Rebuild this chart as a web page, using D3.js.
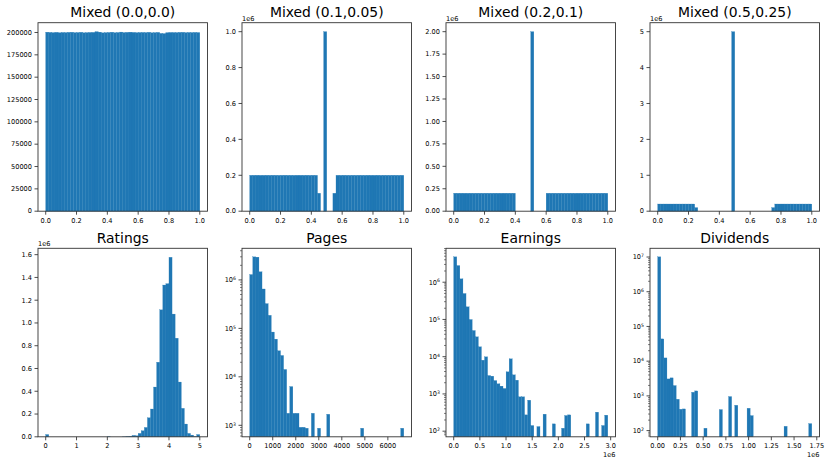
<!DOCTYPE html>
<html>
<head>
<meta charset="utf-8">
<script src="https://cdn.jsdelivr.net/npm/d3@7"></script>
<style>
  body { margin: 0; background: #fff; }
  svg { display: block; }
  text { font-family: "DejaVu Sans", sans-serif; fill: #000; }
</style>
</head>
<body>
<svg id="chart" width="830" height="466"></svg>
<script>
// histogram counts, 50 bins per panel
const titles = ['Mixed (0.0,0.0)', 'Mixed (0.1,0.05)', 'Mixed (0.2,0.1)', 'Mixed (0.5,0.25)',
                'Ratings', 'Pages', 'Earnings', 'Dividends'];

const binRanges = [[0, 1], [0, 1], [0, 1], [0, 1], [0, 5], [0, 6692], [0, 2.945e6], [0, 1.695e6]];

const mixed00Counts = [200350, 200120, 199880, 200210, 199760, 200040, 199930, 200180, 200300, 199850,
  199990, 200260, 199700, 199910, 200080, 200150, 200920, 200410, 199620, 199880,
  200060, 200330, 199790, 200010, 200470, 199950, 200190, 200380, 200120, 199870,
  200020, 200090, 199960, 200240, 199710, 199890, 200140, 199000, 198800, 199850,
  200070, 200010, 199940, 200160, 200230, 199880, 200050, 199970, 200110, 199990];

const mixed01Counts = [199900, 200150, 200300, 199870, 200020, 200180, 199950, 200240, 200060, 199810,
  200110, 200270, 199930, 200040, 199880, 200190, 200090, 199960, 200220, 199840,
  200130, 199990, 100000, 0, 1000000, 0, 0, 100000, 200080, 199920,
  200260, 200010, 199870, 200150, 199940, 200200, 200030, 199890, 200170, 200050,
  199960, 200240, 199820, 200100, 200010, 199930, 200180, 200060, 199900, 200120];

const mixed02Counts = [200100, 199920, 200230, 200040, 199880, 200170, 199990, 200260, 200080, 199850,
  200140, 200020, 199910, 200200, 200060, 199940, 200180, 200030, 199870, 200110,
  0, 0, 0, 0, 0, 2000000, 0, 0, 0, 0,
  200050, 199960, 200210, 199890, 200120, 200010, 199930, 200240, 200070, 199860,
  200150, 199980, 200190, 200040, 199900, 200130, 200020, 199950, 200220, 200080];

const mixed05Counts = [200120, 199940, 200210, 200030, 199880, 200160, 200050, 199920, 200230, 200010,
  199960, 200140, 100000, 0, 0, 0, 0, 0, 0, 0,
  0, 0, 0, 0, 5000000, 0, 0, 0, 0, 0,
  0, 0, 0, 0, 0, 0, 0, 100000, 200090, 199930,
  200180, 200020, 199890, 200240, 200060, 199970, 200150, 200010, 199900, 200200];

const ratingsCounts = [20000, 0, 0, 0, 0, 0, 0, 0, 0, 0,
  0, 0, 0, 0, 0, 0, 0, 0, 0, 0,
  3000, 0, 0, 0, 0, 1000, 4000, 5000, 12000, 9000,
  30000, 53000, 82000, 167000, 244000, 437000, 655000, 1115000, 1333000, 1345000,
  1577000, 1078000, 866000, 481000, 250000, 112000, 30000, 15000, 3000, 20000];

const pagesCounts = [1290000, 2990000, 2950000, 1470000, 650000, 324000, 186000, 84000, 60000, 34500,
  27600, 14200, 1770, 6300, 1770, 1770, 910, 910, 870, 0,
  1770, 0, 870, 0, 0, 1690, 0, 0, 0, 0,
  0, 0, 0, 0, 0, 0, 870, 0, 0, 0,
  0, 0, 0, 0, 0, 0, 0, 0, 0, 870];

const earningsCounts = [4790000, 2800000, 1230000, 497000, 218000, 99500, 50400, 34100, 18400, 8050,
  9900, 3120, 3000, 2290, 1870, 1620, 1400, 3920, 8750, 3250,
  2340, 836, 836, 274, 679, 142, 0, 133, 0, 286,
  0, 0, 157, 0, 0, 120, 263, 274, 0, 0,
  0, 0, 0, 157, 0, 0, 324, 0, 142, 269];

const dividendsCounts = [10100000, 43800, 12400, 3080, 3300, 1980, 800, 412, 421, 0,
  0, 1270, 1390, 0, 0, 117, 0, 0, 0, 0,
  403, 0, 0, 955, 0, 537, 0, 0, 0, 440,
  270, 0, 0, 0, 0, 0, 0, 0, 0, 0,
  0, 133, 0, 0, 0, 0, 0, 0, 0, 159];

// tick labels
const unitTicks = [0, 0.2, 0.4, 0.6, 0.8, 1.0];
const mixed00YTicks = [0, 25000, 50000, 75000, 100000, 125000, 150000, 175000, 200000];
const mixed01YTicks = [0, 0.2e6, 0.4e6, 0.6e6, 0.8e6, 1.0e6];
const mixed02YTicks = [0, 0.25e6, 0.5e6, 0.75e6, 1.0e6, 1.25e6, 1.5e6, 1.75e6, 2.0e6];
const mixed05YTicks = [0, 1e6, 2e6, 3e6, 4e6, 5e6];
const ratingsXTicks = [0, 1, 2, 3, 4, 5];
const ratingsYTicks = [0, 0.2e6, 0.4e6, 0.6e6, 0.8e6, 1.0e6, 1.2e6, 1.4e6, 1.6e6];
const pagesXTicks = [0, 1000, 2000, 3000, 4000, 5000, 6000];
const earningsXTicks = [0, 0.5e6, 1.0e6, 1.5e6, 2.0e6, 2.5e6, 3.0e6];
const dividendsXTicks = [0, 0.25e6, 0.5e6, 0.75e6, 1.0e6, 1.25e6, 1.5e6, 1.75e6];

const fix = n => d => (d / 1e6).toFixed(n);
const panels = [
  { counts: mixed00Counts, xTicks: unitTicks, xFmt: d => d.toFixed(1), yTicks: mixed00YTicks, yFmt: d => String(d) },
  { counts: mixed01Counts, xTicks: unitTicks, xFmt: d => d.toFixed(1), yTicks: mixed01YTicks, yFmt: fix(1), yOff: true },
  { counts: mixed02Counts, xTicks: unitTicks, xFmt: d => d.toFixed(1), yTicks: mixed02YTicks, yFmt: fix(2), yOff: true },
  { counts: mixed05Counts, xTicks: unitTicks, xFmt: d => d.toFixed(1), yTicks: mixed05YTicks, yFmt: fix(0), yOff: true },
  { counts: ratingsCounts, xTicks: ratingsXTicks, xFmt: d => String(d), yTicks: ratingsYTicks, yFmt: fix(1), yOff: true },
  { counts: pagesCounts, xTicks: pagesXTicks, xFmt: d => String(d), log: true },
  { counts: earningsCounts, xTicks: earningsXTicks, xFmt: fix(1), log: true, xOff: true },
  { counts: dividendsCounts, xTicks: dividendsXTicks, xFmt: fix(2), log: true, xOff: true }
];

const svg = d3.select('#chart');
const colLeft = [38, 242, 446, 650];
const rowTop = [22.7, 248.3];
const pw = 169.5, ph = 188.5;
const barColor = '#1f77b4';
const tickFont = 6.6;

panels.forEach((p, k) => {
  const left = colLeft[k % 4], top = rowTop[Math.floor(k / 4)];
  const [lo, hi] = binRanges[k];
  const n = p.counts.length;
  const w = (hi - lo) / n;
  const pad = (hi - lo) * 0.05;

  const x = d3.scaleLinear().domain([lo - pad, hi + pad]).range([0, pw]);
  let y;
  if (p.log) {
    const pos = p.counts.filter(c => c > 0);
    const lmin = Math.log10(d3.min(pos)), lmax = Math.log10(d3.max(pos));
    const m = (lmax - lmin) * 0.05;
    y = d3.scaleLog().domain([Math.pow(10, lmin - m), Math.pow(10, lmax + m)]).range([ph, 0]);
  } else {
    y = d3.scaleLinear().domain([0, d3.max(p.counts) * 1.05]).range([ph, 0]);
  }

  const g = svg.append('g').attr('transform', `translate(${left},${top})`);

  g.append('text')
    .attr('x', pw / 2).attr('y', -5.5)
    .attr('text-anchor', 'middle')
    .style('font-size', '13.9px')
    .text(titles[k]);

  g.append('g').selectAll('rect')
    .data(p.counts.map((c, i) => ({ c, i })).filter(d => d.c > 0))
    .join('rect')
    .attr('x', d => x(lo + d.i * w))
    .attr('width', d => x(lo + (d.i + 1) * w) - x(lo + d.i * w))
    .attr('y', d => y(d.c))
    .attr('height', d => ph - y(d.c))
    .attr('fill', barColor)
    .attr('stroke', barColor)
    .attr('stroke-width', 0.25);

  // x ticks
  const xt = g.append('g');
  p.xTicks.forEach(t => {
    const xp = x(t);
    xt.append('line').attr('x1', xp).attr('x2', xp).attr('y1', ph).attr('y2', ph + 3.5)
      .attr('stroke', '#000').attr('stroke-width', 0.7);
    xt.append('text').attr('x', xp).attr('y', ph + 6.5).attr('dy', '0.76em')
      .attr('text-anchor', 'middle').style('font-size', tickFont + 'px')
      .text(p.xFmt(t));
  });
  if (p.xOff) {
    g.append('text').attr('x', pw).attr('y', ph + 20.5).attr('text-anchor', 'end')
      .style('font-size', tickFont + 'px').text('1e6');
  }

  // y ticks
  const yt = g.append('g');
  if (p.log) {
    const [d0, d1] = y.domain();
    const e0 = Math.floor(Math.log10(d0)), e1 = Math.ceil(Math.log10(d1));
    for (let e = e0; e <= e1; e++) {
      for (let m = 1; m <= 9; m++) {
        const v = m * Math.pow(10, e);
        if (v < d0 || v > d1) continue;
        const yp = y(v);
        const len = m === 1 ? 3.5 : 2;
        yt.append('line').attr('x1', -len).attr('x2', 0).attr('y1', yp).attr('y2', yp)
          .attr('stroke', '#000').attr('stroke-width', m === 1 ? 0.7 : 0.5);
        if (m === 1) {
          const tx = yt.append('text').attr('x', -6).attr('y', yp).attr('dy', '0.35em')
            .attr('text-anchor', 'end').style('font-size', tickFont + 'px');
          tx.append('tspan').text('10');
          tx.append('tspan').attr('dy', '-0.45em').style('font-size', '4.6px').text(String(e));
        }
      }
    }
  } else {
    p.yTicks.forEach(t => {
      const yp = y(t);
      yt.append('line').attr('x1', -3.5).attr('x2', 0).attr('y1', yp).attr('y2', yp)
        .attr('stroke', '#000').attr('stroke-width', 0.7);
      yt.append('text').attr('x', -6).attr('y', yp).attr('dy', '0.35em')
        .attr('text-anchor', 'end').style('font-size', tickFont + 'px')
        .text(p.yFmt(t));
    });
    if (p.yOff) {
      g.append('text').attr('x', 0).attr('y', -2).style('font-size', tickFont + 'px').text('1e6');
    }
  }

  g.append('rect').attr('width', pw).attr('height', ph)
    .attr('fill', 'none').attr('stroke', '#333').attr('stroke-width', 0.9);
});
</script>
</body>
</html>
